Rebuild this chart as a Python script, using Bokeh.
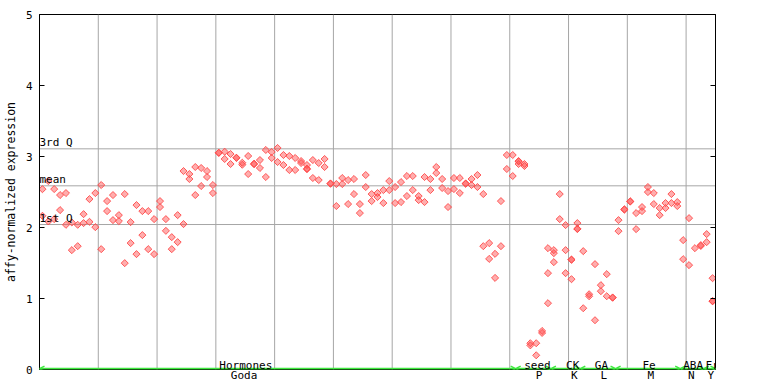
import numpy as np
from bokeh.plotting import figure
from bokeh.models import (Span, Label, Arrow, OpenHead, LinearAxis, Range1d, FixedTicker,
                          ColumnDataSource, CustomJSTickFormatter)
from bokeh.embed import file_html
from bokeh.resources import INLINE

# expression values per sample position (replicates), grouped by experiment section
goda = [
    [2.54, 2.165], [2.654, 2.085], [2.541, 2.118], [2.457, 2.245], [2.485, 2.038],
    [2.071, 1.681], [2.038, 1.737], [2.188, 2.062], [2.40, 2.08], [2.485, 2.005],
    [2.598, 1.695], [2.372, 2.231], [2.457, 2.104], [2.174, 2.09], [2.471, 1.498],
    [2.076, 1.78], [2.316, 1.625], [2.231, 1.893], [2.231, 1.695], [2.118, 1.625],
    [2.372, 2.288], [2.118, 1.953], [1.864, 1.695], [2.174, 1.794], [2.795, 2.048],
    [2.753, 2.683], [2.852, 2.457], [2.838, 2.584], [2.795, 2.711], [2.598, 2.485],
    [3.054, 3.05], [3.068, 2.965], [3.035, 2.894], [2.983, 2.98], [2.912, 2.884],
    [3.007, 2.753], [2.90, 2.89], [2.95, 2.838], [3.092, 2.711], [3.063, 2.979],
    [3.12, 2.922], [3.021, 2.88], [3.007, 2.81], [2.979, 2.81], [2.936, 2.908],
    [2.88, 2.83, 2.82], [2.95, 2.697], [2.908, 2.668], [2.965, 2.852], [2.621, 2.615],
    [2.612, 2.302], [2.697, 2.612], [2.668, 2.33], [2.683, 2.471], [2.33, 2.203],
    [2.739, 2.57], [2.471, 2.372], [2.485, 2.429], [2.527, 2.344], [2.654, 2.527],
    [2.57, 2.344], [2.64, 2.358], [2.725, 2.443], [2.725, 2.527], [2.443, 2.386],
    [2.711, 2.358], [2.683, 2.527], [2.852, 2.767], [2.683, 2.556], [2.513, 2.288],
    [2.697, 2.541], [2.697, 2.485], [2.621, 2.615], [2.683, 2.598], [2.739, 2.57],
    [2.471, 1.737], [1.78, 1.558], [1.629, 1.29], [2.372, 1.737], [3.021, 2.824],
    [3.021, 2.725],
]
seed = [
    [2.936, 2.93, 2.894], [2.894, 2.866], [0.37, 0.34], [0.37, 0.20], [0.543, 0.515],
    [1.709, 1.357, 0.934],
]
ck = [
    [1.681, 1.639, 1.512], [2.471, 2.118], [2.034, 1.681, 1.357], [1.549, 1.545, 1.272],
    [2.062, 1.982, 1.978],
]
ga = [
    [1.667, 0.863], [1.06, 1.032], [1.484, 0.694], [1.188, 1.103], [1.343, 1.032],
    [1.015, 1.01],
]
fe = [
    [2.104, 1.949], [2.258, 2.25], [2.37, 2.364], [2.203, 1.977], [2.288, 2.231],
    [2.57, 2.499], [2.485, 2.33], [2.274, 2.174], [2.344, 2.274], [2.471, 2.344],
    [2.358, 2.302],
]
aba = [[1.822, 1.554], [2.132, 1.47], [1.709], [1.752, 1.74]]
fr = [[1.907, 1.794], [1.286, 0.965, 0.96]]

sections = [goda, seed, ck, ga, fe, aba, fr]
upper_labels = ["Hormones", "seed", "CK", "GA", "Fe", "ABA", "Fr"]
lower_labels = ["Goda", "P", "K", "L", "M", "N", "Y"]
upper_label_x = [34.6, 84.2, 90.2, 95.1, 103.2, 110.7, 112.8]
upper_label_align = ["center", "center", "center", "center", "center", "center", "left"]
lower_label_x = [34.3, 84.5, 90.5, 95.5, 103.5, 110.4, 113.7]

q1_value = 2.042
mean_value = 2.587
q3_value = 3.108
y_ticks = [0, 1, 2, 3, 4, 5]

RED = "#ff4a4a"
GRID = "#a6a6a6"
GREEN = "#3ee83e"
FONT = "DejaVu Sans Mono"

xs, ys, bounds = [], [], []
idx = 0
for sec in sections:
    start = idx
    for reps in sec:
        for v in reps:
            xs.append(idx)
            ys.append(v)
        idx += 1
    bounds.append((start, idx - 1))
n_pos = idx

p = figure(width=760, height=384, x_range=Range1d(-0.5, n_pos - 0.5), y_range=Range1d(0, 5),
           output_backend="svg", toolbar_location=None, x_axis_location="below",
           y_axis_location="left", min_border_left=38, min_border_right=45,
           min_border_top=14, min_border_bottom=12)
p.grid.visible = False
p.outline_line_color = "black"
p.outline_line_alpha = 1.0
p.background_fill_color = "white"
p.border_fill_color = "white"

yax = p.yaxis[0]
yax.ticker = FixedTicker(ticks=y_ticks)
yax.major_tick_in = 5
yax.major_tick_out = 0
yax.minor_tick_line_color = None
yax.major_label_standoff = 7
yax.axis_line_color = "black"
yax.major_tick_line_color = "black"
yax.major_label_text_font = FONT
yax.major_label_text_font_size = "11px"
yax.major_label_text_color = "black"
yax.axis_label = "affy-normalized expression"
yax.axis_label_standoff = 5
yax.axis_label_text_font = FONT
yax.axis_label_text_font_size = "11.5px"
yax.axis_label_text_font_style = "normal"
yax.axis_label_text_color = "black"

xax = p.xaxis[0]
xax.ticker = FixedTicker(ticks=lower_label_x)
xax.formatter = CustomJSTickFormatter(args=dict(labels=lower_labels), code="return labels[index]")
xax.major_tick_in = 0
xax.major_tick_out = 0
xax.minor_tick_line_color = None
xax.axis_line_color = None
xax.major_label_standoff = -1
xax.major_label_text_font = FONT
xax.major_label_text_font_size = "11px"
xax.major_label_text_color = "black"

rax = LinearAxis(ticker=FixedTicker(ticks=y_ticks), major_tick_in=5, major_tick_out=0,
                 minor_tick_line_color=None,
                 formatter=CustomJSTickFormatter(code="return ''"),
                 axis_line_color="black", major_tick_line_color="black")
p.add_layout(rax, "right")

# vertical grid every 10 samples
for k in range(9, n_pos - 1, 10):
    p.add_layout(Span(location=k + 0.5, dimension="height", line_color=GRID,
                      line_width=1, level="underlay"))
for v in (q1_value, mean_value, q3_value):
    p.add_layout(Span(location=v, dimension="width", line_color=GRID,
                      line_width=1, level="underlay"))

for txt, v in (("3rd Q", q3_value), ("mean", mean_value), ("1st Q", q1_value)):
    p.add_layout(Label(x=-0.5, y=v, text=txt, text_font=FONT, text_font_size="11px",
                       text_align="left", text_baseline="bottom", text_color="black"))

src = ColumnDataSource(dict(x=xs, y=ys))
p.scatter("x", "y", source=src, marker="square", angle=np.pi / 4, size=5,
          fill_color=RED, fill_alpha=0.45, line_color=RED, line_width=1, line_alpha=0.9)

# section arrows along bottom (slightly above the frame edge so they are not clipped)
for (s, e) in bounds:
    p.add_layout(Arrow(x_start=s - 0.5, y_start=0.012, x_end=e + 0.5, y_end=0.012,
                       line_color=GREEN, line_width=2,
                       start=OpenHead(size=5, line_color=GREEN, line_width=1.5),
                       end=OpenHead(size=5, line_color=GREEN, line_width=1.5)))

for txt, x, al in zip(upper_labels, upper_label_x, upper_label_align):
    p.add_layout(Label(x=x, y=0.05, text=txt, text_font=FONT, text_font_size="11px",
                       text_align=al, text_baseline="alphabetic", text_color="black"))

open("out.html", "w").write(file_html(p, INLINE))
